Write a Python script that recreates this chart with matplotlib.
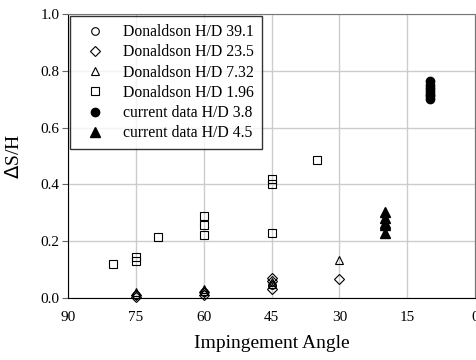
import matplotlib.pyplot as plt
import numpy as np

plt.rcParams['font.family'] = ['Liberation Serif', 'DejaVu Serif']

# Donaldson data
d391_x = [75, 60, 45]
d391_y = [0.010, 0.020, 0.045]
d235_x = [75, 75, 60, 60, 45, 45, 45, 30]
d235_y = [0.005, 0.012, 0.010, 0.020, 0.030, 0.060, 0.070, 0.066]
d732_x = [75, 60, 60, 45, 45, 30]
d732_y = [0.020, 0.025, 0.033, 0.050, 0.058, 0.134]
d196_x = [80, 75, 75, 70, 60, 60, 60, 45, 45, 45, 35]
d196_y = [0.118, 0.131, 0.143, 0.216, 0.222, 0.257, 0.289, 0.228, 0.400, 0.419, 0.486]

# current data
c38_x = [10, 10, 10, 10, 10, 10, 10]
c38_y = [0.700, 0.710, 0.720, 0.730, 0.740, 0.750, 0.765]
c45_x = [20, 20, 20, 20, 20]
c45_y = [0.229, 0.257, 0.264, 0.282, 0.304]

xticks = [90, 75, 60, 45, 30, 15, 0]
yticks = [0.0, 0.2, 0.4, 0.6, 0.8, 1.0]

fig = plt.figure(figsize=(4.77, 3.6), dpi=100)
ax = fig.add_axes([0.1426, 0.1722, 0.8532, 0.7888])

kw = dict(linestyle='none', color='k', clip_on=False, zorder=3)
ax.plot(d391_x, d391_y, 'o', ms=5.5, mfc='none', mew=0.8, label='Donaldson H/D 39.1', **kw)
ax.plot(d235_x, d235_y, 'D', ms=5, mfc='none', mew=0.8, label='Donaldson H/D 23.5', **kw)
ax.plot(d732_x, d732_y, '^', ms=6, mfc='none', mew=0.8, label='Donaldson H/D 7.32', **kw)
ax.plot(d196_x, d196_y, 's', ms=6, mfc='none', mew=0.8, label='Donaldson H/D 1.96', **kw)
ax.plot(c38_x, c38_y, 'o', ms=6, label='current data H/D 3.8', **kw)
ax.plot(c45_x, c45_y, '^', ms=6.5, label='current data H/D 4.5', **kw)

ax.set_xlim(90, 0)
ax.set_ylim(0, 1.0)
ax.set_xticks(xticks)
ax.set_yticks(yticks)
ax.set_yticklabels(['%.1f' % v for v in yticks])
ax.grid(True, color='#cccccc', linewidth=1)
ax.set_axisbelow(True)
ax.tick_params(axis='both', labelsize=11, color='#666666')
ax.tick_params(axis='x', length=0, pad=9)
ax.tick_params(axis='y', length=4, pad=2)
for s in ['left', 'bottom']:
    ax.spines[s].set_color('k')
for s in ['top', 'right']:
    ax.spines[s].set_color('#777777')

ax.set_xlabel('Impingement Angle', fontsize=14, labelpad=8)
ax.set_ylabel(r'$\Delta$S/H', fontsize=14, labelpad=13)

leg = ax.legend(loc='upper left', fontsize=11.3, frameon=True, fancybox=False,
                edgecolor='k', borderaxespad=0.15, handletextpad=0.65,
                labelspacing=0.27, borderpad=0.5, numpoints=1, handlelength=2.2)
leg.get_frame().set_linewidth(1)

fig.savefig('out.png', dpi=100)
